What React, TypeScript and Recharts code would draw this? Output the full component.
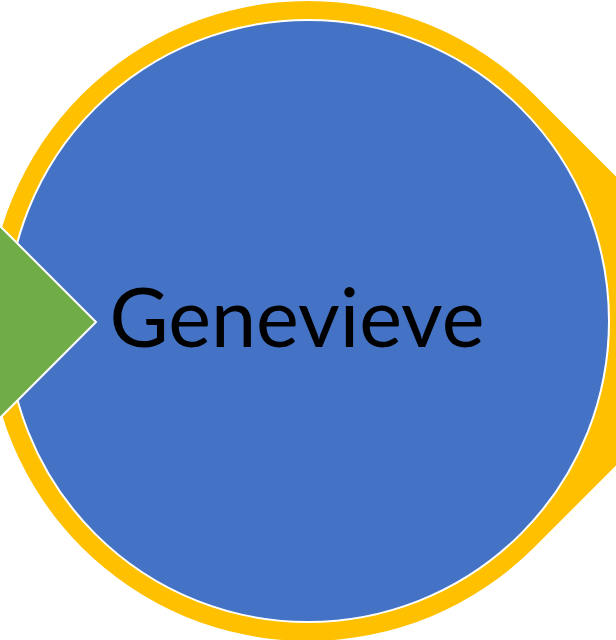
import { Scatter, ScatterChart, XAxis, YAxis } from "recharts";

const CHART_W = 616;
const CHART_H = 640;

// one diagram node each, in plot units (domain == pixels)
const ringX = [308];
const ringY = [321];
const ringR = [320];

const nodeX = [308];
const nodeY = [321];
const nodeR = [301];

const arrowX = [0];
const arrowY = [322];
const arrowR = [96];

const labelText = ["Genevieve"];
const labelX = [297];
const labelY = [347];

const ringData = ringX.map((x, i) => ({ x, y: ringY[i], r: ringR[i] }));
const nodeData = nodeX.map((x, i) => ({ x, y: nodeY[i], r: nodeR[i] }));
const arrowData = arrowX.map((x, i) => ({ x, y: arrowY[i], r: arrowR[i] }));
const labelData = labelX.map((x, i) => ({ x, y: labelY[i], name: labelText[i] }));

const YELLOW = "#FFC000";
const BLUE = "#4472C4";
const GREEN = "#70AD47";

function Teardrop(props: any) {
	const { cx, cy, payload } = props;
	const r = payload.r;
	const k = r / Math.SQRT2;
	const d = `M ${cx + k} ${cy - k} L ${cx + r * Math.SQRT2} ${cy} L ${cx + k} ${cy + k} A ${r} ${r} 0 1 1 ${cx + k} ${cy - k} Z`;
	return <path d={d} fill={YELLOW} />;
}

function Disc(props: any) {
	const { cx, cy, payload } = props;
	return <circle cx={cx} cy={cy} r={payload.r} fill={BLUE} stroke="#fff" strokeWidth={2} />;
}

function Diamond(props: any) {
	const { cx, cy, payload } = props;
	const r = payload.r;
	const d = `M ${cx} ${cy - r} L ${cx + r} ${cy} L ${cx} ${cy + r} L ${cx - r} ${cy} Z`;
	return <path d={d} fill={GREEN} stroke="#fff" strokeWidth={2} strokeLinejoin="miter" />;
}

function Label(props: any) {
	const { cx, cy, payload } = props;
	return (
		<text
			x={cx}
			y={cy}
			textAnchor="middle"
			fill="#000"
			fontFamily="Lato, 'Open Sans', sans-serif"
			fontSize={81}
		>
			{payload.name}
		</text>
	);
}

export default function App() {
	return (
		<div style={{ position: "fixed", left: 0, top: 0, background: "#fff" }}>
			<ScatterChart
				width={CHART_W}
				height={CHART_H}
				margin={{ top: 0, right: 0, bottom: 0, left: 0 }}
			>
				<XAxis type="number" dataKey="x" domain={[0, CHART_W]} hide />
				<YAxis type="number" dataKey="y" domain={[0, CHART_H]} reversed hide />
				<Scatter data={ringData} shape={Teardrop} isAnimationActive={false} />
				<Scatter data={nodeData} shape={Disc} isAnimationActive={false} />
				<Scatter data={arrowData} shape={Diamond} isAnimationActive={false} />
				<Scatter data={labelData} shape={Label} isAnimationActive={false} />
			</ScatterChart>
		</div>
	);
}
